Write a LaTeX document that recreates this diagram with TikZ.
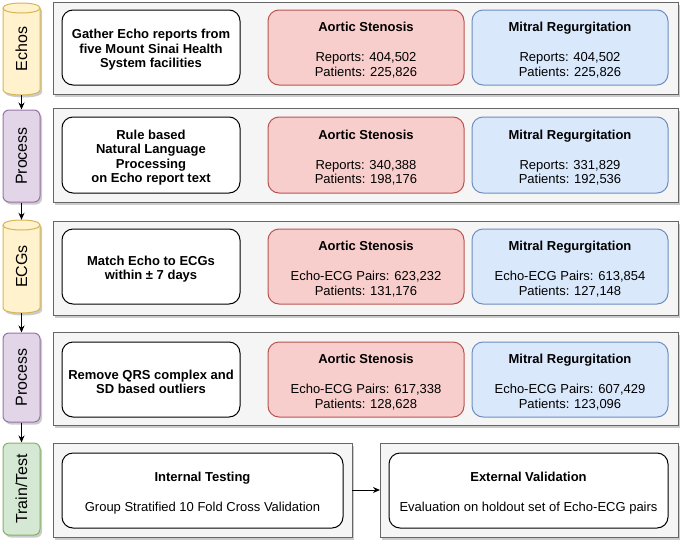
\documentclass[tikz,border=0pt]{standalone}
\usepackage{fontspec}
\setmainfont{Liberation Sans}
\usetikzlibrary{arrows.meta,shadows}
\definecolor{panelfill}{HTML}{F5F5F5}
\definecolor{panelline}{HTML}{666666}
\definecolor{redfill}{HTML}{F8CECC}
\definecolor{redline}{HTML}{B85450}
\definecolor{bluefill}{HTML}{DAE8FC}
\definecolor{blueline}{HTML}{6C8EBF}
\definecolor{yelfill}{HTML}{FFF2CC}
\definecolor{yelline}{HTML}{D6B656}
\definecolor{purfill}{HTML}{E1D5E7}
\definecolor{purline}{HTML}{9673A6}
\definecolor{grnfill}{HTML}{D5E8D4}
\definecolor{grnline}{HTML}{82B366}
\tikzset{
  shad/.style={drop shadow={shadow xshift=2pt,shadow yshift=-2.5pt,fill=black!45,opacity=0.45}},
  panel/.style={draw=panelline,fill=panelfill,line width=1pt,shad,inner sep=0pt,outer sep=0pt},
  txt/.style={font=\fontsize{13}{14.5}\selectfont,align=center,text=black},
  whitebox/.style={txt,draw=black,fill=white,line width=1pt,rounded corners=11pt,
     minimum width=178,minimum height=75,font=\bfseries\fontsize{13}{14.5}\selectfont},
  redbox/.style={txt,draw=redline,fill=redfill,line width=1pt,rounded corners=11pt,minimum width=196,minimum height=75},
  bluebox/.style={txt,draw=blueline,fill=bluefill,line width=1pt,rounded corners=11pt,minimum width=196,minimum height=75},
  wbox/.style={txt,draw=black,fill=white,line width=1pt,rounded corners=11pt,minimum height=75},
  sidelabel/.style={rotate=90,minimum width=92,minimum height=37,inner sep=0pt,
     font=\fontsize{16}{19}\selectfont,text=black},
  sidebox/.style={sidelabel,draw=#1,line width=1pt,rounded corners=6pt,shad},
  arr/.style={-{Stealth[length=7pt,width=6pt]},line width=1pt,black},
}
\newcommand\dn{\rule{0pt}{14.5pt}}
\newcommand\ttl[1]{\dn\textbf{#1}\\[15.5pt]}
\begin{document}
\begin{tikzpicture}[x=1pt,y=-1pt]
\useasboundingbox (0,0) rectangle (685,544);
% panels
\node[panel,minimum width=625,minimum height=92] (p1) at (365.5,48) {};
\node[panel,minimum width=625,minimum height=94] (p2) at (365.5,155) {};
\node[panel,minimum width=625,minimum height=94] (p3) at (365.5,268) {};
\node[panel,minimum width=625,minimum height=93] (p4) at (365.5,378.5) {};
\node[panel,minimum width=299,minimum height=94] (p5l) at (202.5,490) {};
\node[panel,minimum width=298,minimum height=94] (p5r) at (529,490) {};
% row 1
\node[whitebox] (w1) at (151,47.5) {\dn Gather Echo reports from\\five Mount Sinai Health\\System facilities};
\node[redbox] (as1) at (366,47.5) {\ttl{Aortic Stenosis}Reports: 404,502\\Patients: 225,826};
\node[bluebox] (mr1) at (570,47.5) {\ttl{Mitral Regurgitation}Reports: 404,502\\Patients: 225,826};
% row 2
\node[whitebox,minimum height=76] (w2) at (151,155) {\dn Rule based\\Natural Language\\Processing\\on Echo report text};
\node[redbox,minimum height=76] (as2) at (366,155) {\ttl{Aortic Stenosis}Reports: 340,388\\Patients: 198,176};
\node[bluebox,minimum height=76] (mr2) at (570,155) {\ttl{Mitral Regurgitation}Reports: 331,829\\Patients: 192,536};
% row 3
\node[whitebox] (w3) at (151,266.5) {\dn Match Echo to ECGs\\within ± 7 days};
\node[redbox] (as3) at (366,266.5) {\ttl{Aortic Stenosis}Echo-ECG Pairs: 623,232\\Patients: 131,176};
\node[bluebox] (mr3) at (570,266.5) {\ttl{Mitral Regurgitation}Echo-ECG Pairs: 613,854\\Patients: 127,148};
% row 4
\node[whitebox] (w4) at (151,379.5) {\dn Remove QRS complex and\\SD based outliers};
\node[redbox] (as4) at (366,379.5) {\ttl{Aortic Stenosis}Echo-ECG Pairs: 617,338\\Patients: 128,628};
\node[bluebox] (mr4) at (570,379.5) {\ttl{Mitral Regurgitation}Echo-ECG Pairs: 607,429\\Patients: 123,096};
% row 5
\node[wbox,minimum width=281] (int) at (202.5,490.5) {\ttl{Internal Testing}Group Stratified 10 Fold Cross Validation};
\node[wbox,minimum width=279] (ext) at (528.5,490.5) {\ttl{External Validation}Evaluation on holdout set of Echo-ECG pairs};
% cylinders
\path[draw=yelline,fill=yelfill,line width=1pt,shad]
  (3,8) -- (3,90) .. controls (3,96.67) and (40,96.67) .. (40,90) -- (40,8)
  .. controls (40,1.33) and (3,1.33) .. (3,8) -- cycle;
\draw[yelline,line width=1pt] (3,8) .. controls (3,14.67) and (40,14.67) .. (40,8);
\path[draw=yelline,fill=yelfill,line width=1pt,shad]
  (3,225) -- (3,308) .. controls (3,314.67) and (40,314.67) .. (40,308) -- (40,225)
  .. controls (40,218.33) and (3,218.33) .. (3,225) -- cycle;
\draw[yelline,line width=1pt] (3,225) .. controls (3,231.67) and (40,231.67) .. (40,225);
\node[sidelabel] (echos) at (21.5,49) {Echos};
\node[sidelabel,minimum width=93] (ecgs) at (21.5,266.5) {ECGs};
\node[sidebox=purline,fill=purfill] (proc1) at (21.5,156) {Process};
\node[sidebox=purline,fill=purfill,minimum width=89] (proc2) at (21.5,377.5) {Process};
\node[sidebox=grnline,fill=grnfill] (train) at (21.5,489) {Train/Test};
% connectors
\draw[arr] (echos) -- (proc1);
\draw[arr] (proc1) -- (ecgs);
\draw[arr] (ecgs) -- (proc2);
\draw[arr] (proc2) -- (train);
\draw[arr] (p5l) -- (p5r);
\end{tikzpicture}
\end{document}
